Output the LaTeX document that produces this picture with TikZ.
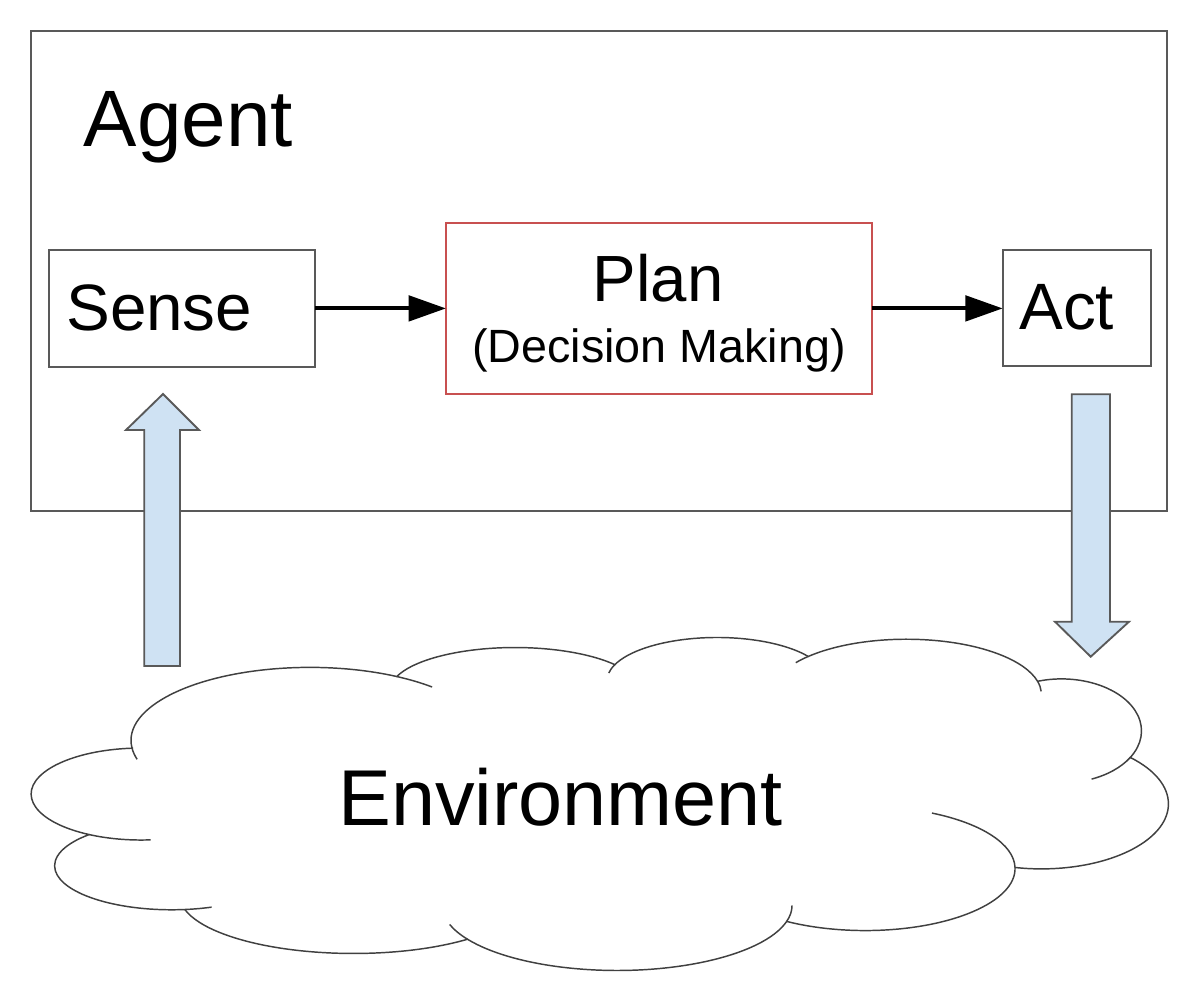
\documentclass[tikz,border=0pt]{standalone}
\usepackage{fontspec}
\setmainfont{Liberation Sans}
\usetikzlibrary{arrows.meta}
\definecolor{rahmen}{RGB}{89,89,89}
\definecolor{planrot}{RGB}{200,80,80}
\definecolor{hellblau}{RGB}{207,226,243}
\begin{document}
\begin{tikzpicture}
                        [x=0.75pt, y=0.75pt,
                        kasten/.style={draw=rahmen, line width=1.5pt, inner sep=0pt, outer sep=0pt},
                        schrift/.style={inner sep=0pt},
                        fluss/.style={line width=3pt, -{Triangle[length=28pt,width=19pt]}},
                        blockpfeil/.style={draw=rahmen, fill=hellblau, line width=1.4pt},
                        wolke/.style={draw=black!75, line width=1.1pt}]
                        \useasboundingbox (0,0) rectangle (1200,-983);
                        %Agent
                        \node [kasten, minimum width=852pt, minimum height=360pt] (agent) at (598.7,-270.7) {};
                        \node [schrift, anchor=base west, font=\fontsize{60pt}{70pt}\selectfont] (agenttext) at (83.5,-146.7) {Agent};
                        %Kaesten
                        \node [kasten, minimum width=199.3pt, minimum height=87.5pt] (sense) at (182.2,-308.4) {};
                        \node [kasten, draw=planrot, minimum width=319.3pt, minimum height=128.7pt] (plan) at (658.8,-308.4) {};
                        \node [kasten, minimum width=111pt, minimum height=87pt] (act) at (1076.7,-308.4) {};
                        \node [schrift, anchor=base west, font=\fontsize{49.2pt}{58pt}\selectfont] (sensetext) at (66,-330) {Sense};
                        \node [schrift, anchor=base, font=\fontsize{49pt}{58pt}\selectfont] (plantext) at (658,-301.5) {Plan};
                        \node [schrift, anchor=base, font=\fontsize{35pt}{42pt}\selectfont] (plansub) at (659,-362.3) {(Decision Making)};
                        \node [schrift, anchor=base west, font=\fontsize{49.2pt}{58pt}\selectfont] (acttext) at (1019,-329) {Act};
                        %Pfeile
                        \draw [fluss] (sense) -- (plan);
                        \draw [fluss] (plan) -- (act);
                        \draw [blockpfeil] (144.3,-666) -- (144.3,-430) -- (126,-430) -- (163,-394) -- (199,-430) -- (180,-430) -- (180,-666) -- cycle;
                        \draw [blockpfeil] (1071.7,-394.3) -- (1110,-394.3) -- (1110,-621.7) -- (1129,-621.7) -- (1090.7,-656.7) -- (1055,-621.7) -- (1071.7,-621.7) -- cycle;
                        %Umwelt
                        \draw [wolke, fill=white] (132,-748) coordinate (w1)
                                arc[start angle=186, end angle=61, x radius=179, y radius=73] coordinate (w2)
                                arc[start angle=161, end angle=37, x radius=125, y radius=43] coordinate (w3)
                                arc[start angle=158.4, end angle=34, x radius=110, y radius=43] coordinate (w4)
                                arc[start angle=136.6, end angle=13.6, x radius=135, y radius=55] coordinate (w5)
                                arc[start angle=107.4, end angle=-30.7, x radius=80, y radius=52] coordinate (w6)
                                arc[start angle=45.6, end angle=-102, x radius=127, y radius=65] coordinate (w7)
                                arc[start angle=1, end angle=-121.5, x radius=150, y radius=62] coordinate (w8)
                                arc[start angle=-14.2, end angle=-148.7, x radius=175, y radius=65] coordinate (w9)
                                arc[start angle=-49, end angle=-166, x radius=173.8, y radius=58] coordinate (w10)
                                arc[start angle=-83.5, end angle=-225.2, x radius=117, y radius=44] coordinate (w11)
                                arc[start angle=241.8, end angle=94.2, x radius=110, y radius=46] -- cycle;
                        \draw [wolke] (w1) arc[start angle=186, end angle=195, x radius=179, y radius=73];
                        \draw [wolke] (w2) arc[start angle=61, end angle=47, x radius=179, y radius=73];
                        \draw [wolke] (w3) arc[start angle=158.4, end angle=170, x radius=110, y radius=43];
                        \draw [wolke] (w4) arc[start angle=136.6, end angle=145, x radius=135, y radius=55];
                        \draw [wolke] (w5) arc[start angle=13.6, end angle=3, x radius=135, y radius=55];
                        \draw [wolke] (w6) arc[start angle=-30.7, end angle=-67.9, x radius=80, y radius=52];
                        \draw [wolke] (w7) arc[start angle=1, end angle=63.5, x radius=150, y radius=62];
                        \draw [wolke] (w8) arc[start angle=-14.2, end angle=0, x radius=175, y radius=65];
                        \draw [wolke] (w9) arc[start angle=-148.7, end angle=-163, x radius=175, y radius=65];
                        \draw [wolke] (w10) arc[start angle=-83.5, end angle=-70, x radius=117, y radius=44];
                        \draw [wolke] (w11) arc[start angle=241.8, end angle=275, x radius=110, y radius=46];
                        \node [schrift, anchor=base, font=\fontsize{59.4pt}{70pt}\selectfont] (umwelt) at (560.5,-825) {Environment};
                \end{tikzpicture}
\end{document}
